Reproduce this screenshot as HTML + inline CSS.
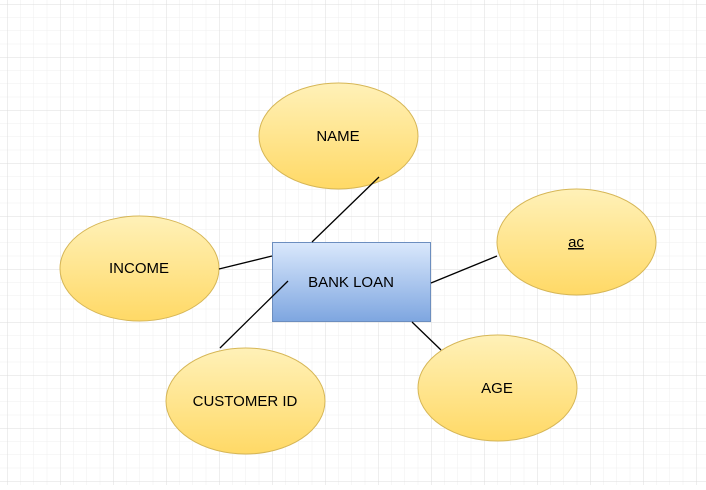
<!DOCTYPE html>
<html><head><style>
html,body{margin:0;padding:0;background:#fff;}
body{width:706px;height:485px;overflow:hidden;}
</style></head><body>
<svg width="706" height="485" xmlns="http://www.w3.org/2000/svg" font-family="Liberation Sans, Arial, sans-serif">
<defs>
<pattern id="minor" x="7" y="4" width="13.25" height="13.25" patternUnits="userSpaceOnUse">
<path d="M0 0 V13.25 M0 0 H13.25" stroke="#efefef" stroke-width="1" fill="none"/>
</pattern>
<pattern id="major" x="7" y="4" width="53" height="53" patternUnits="userSpaceOnUse">
<path d="M0 0 V53 M0 0 H53" stroke="#dcdcdc" stroke-width="1" fill="none"/>
</pattern>
<linearGradient id="y" x1="0" y1="0" x2="0" y2="1"><stop offset="0" stop-color="#fff1b8"/><stop offset="1" stop-color="#ffd966"/></linearGradient>
<linearGradient id="b" x1="0" y1="0" x2="0" y2="1"><stop offset="0" stop-color="#dae8fc"/><stop offset="1" stop-color="#7ea6e0"/></linearGradient>
</defs>
<rect width="706" height="485" fill="url(#minor)"/>
<rect width="706" height="485" fill="url(#major)"/>
<g stroke="#d6b656" stroke-width="1" fill="url(#y)">
<ellipse cx="338.5" cy="136" rx="79.5" ry="53"/>
<ellipse cx="139.5" cy="268.5" rx="79.5" ry="52.5"/>
<ellipse cx="576.5" cy="242" rx="79.5" ry="53"/>
<ellipse cx="245.5" cy="401" rx="79.5" ry="53"/>
<ellipse cx="497.5" cy="388" rx="79.5" ry="53"/>
</g>
<rect x="272.5" y="242.5" width="158" height="79" fill="url(#b)" stroke="#6c8ebf"/>
<g stroke="#000" stroke-width="1.3">
<line x1="312" y1="242" x2="379" y2="177"/>
<line x1="219" y1="269" x2="272" y2="256"/>
<line x1="220" y1="348" x2="288" y2="281"/>
<line x1="431" y1="283" x2="497" y2="256"/>
<line x1="412" y1="322" x2="441" y2="350"/>
</g>
<g font-size="15" text-anchor="middle" fill="#000">
<text x="338" y="141">NAME</text>
<text x="139" y="273">INCOME</text>
<text x="576" y="247" text-decoration="underline">ac</text>
<text x="245" y="406">CUSTOMER ID</text>
<text x="497" y="393">AGE</text>
<text x="351" y="287">BANK LOAN</text>
</g>
</svg>
</body></html>
